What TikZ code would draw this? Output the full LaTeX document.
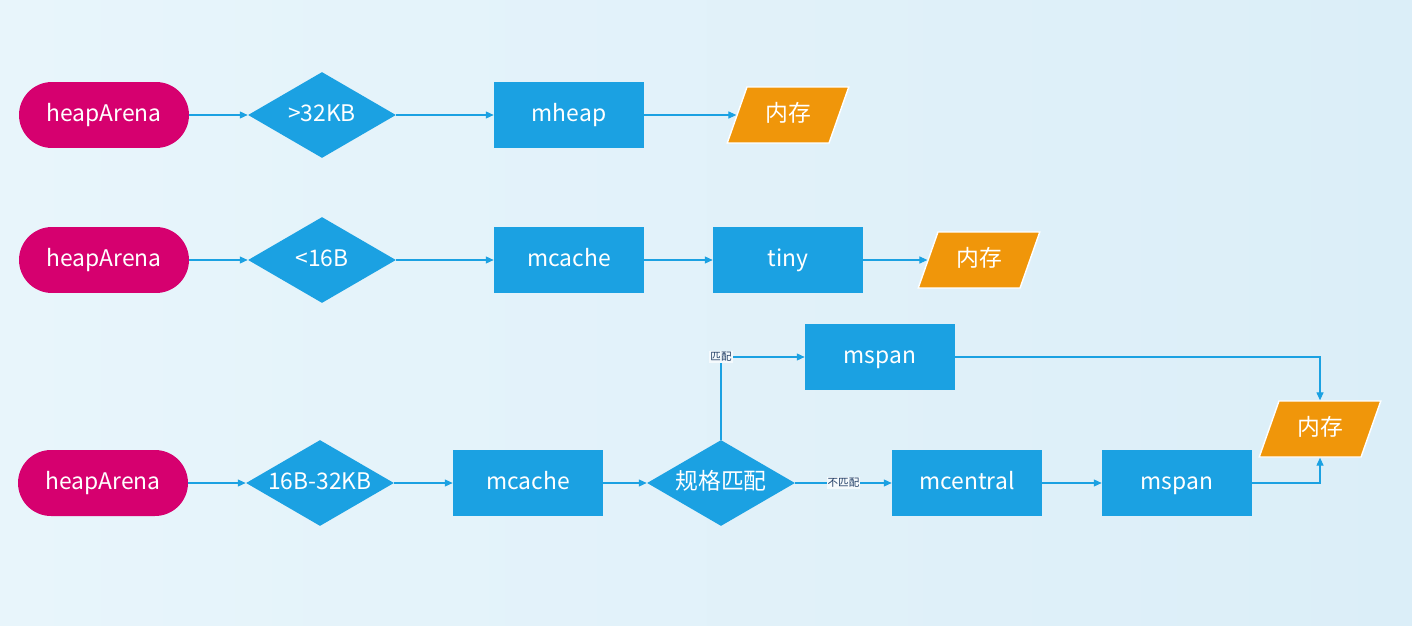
\documentclass[tikz,border=0pt]{standalone}
\usepackage{fontspec}
\setmainfont{Noto Sans CJK SC}
\usetikzlibrary{shapes.geometric,arrows.meta}

\definecolor{bgleft}{RGB}{232,245,251}
\definecolor{bgright}{RGB}{219,238,248}
\definecolor{arenared}{RGB}{214,0,111}
\definecolor{boxblue}{RGB}{27,161,226}
\definecolor{memorange}{RGB}{240,150,10}
\definecolor{tagtext}{RGB}{30,60,100}

\tikzset{
  every node/.append style={text height=1.9ex, text depth=0.45ex},
  arena/.style={rectangle, rounded corners=0.66cm, fill=arenared, text=white,
    minimum width=3.4cm, minimum height=1.32cm},
  cond/.style={diamond, aspect=1.72, fill=boxblue, text=white, inner sep=0pt,
    minimum width=2.96cm, minimum height=1.72cm},
  block/.style={rectangle, fill=boxblue, text=white,
    minimum width=3cm, minimum height=1.32cm},
  mem/.style={trapezium, trapezium left angle=68, trapezium right angle=112,
    trapezium stretches=true, fill=memorange, draw=white, line width=0.8pt,
    text=white, minimum width=2.44cm, minimum height=1.12cm},
  link/.style={draw=boxblue, line width=0.6pt, -{Triangle[length=4.5pt,width=4pt]}},
  tag/.style={fill=white!55!bgleft, text=tagtext, inner sep=0.6pt,
    text height=5pt, text depth=1pt, font=\fontsize{6}{7}\selectfont}
}

\begin{document}
\begin{tikzpicture}[x=0.02cm, y=-0.02cm, font=\fontsize{13}{15}\selectfont]

  \useasboundingbox (0,0) rectangle (1412,625);
  \shade[left color=bgleft, right color=bgright] (0,0) rectangle (1412,625);

  % -------------------------
  % >32KB
  % -------------------------
  \node[arena] (arena1) at (104,115) {heapArena};
  \node[cond]  (big)    at (322,115) {>32KB};
  \node[block] (heap)   at (569,115) {mheap};
  \node[mem]   (mem1)   at (788,115) {内存};

  \draw[link] (arena1.east) -- (big.west);
  \draw[link] (big.east) -- (heap.west);
  \draw[link] (heap.east) -- (mem1.west);

  % -------------------------
  % <16B
  % -------------------------
  \node[arena] (arena2) at (104,260) {heapArena};
  \node[cond]  (small)  at (322,260) {<16B};
  \node[block] (cache1) at (569,260) {mcache};
  \node[block] (tiny)   at (788,260) {tiny};
  \node[mem]   (mem2)   at (979,260) {内存};

  \draw[link] (arena2.east) -- (small.west);
  \draw[link] (small.east) -- (cache1.west);
  \draw[link] (cache1.east) -- (tiny.west);
  \draw[link] (tiny.east) -- (mem2.west);

  % -------------------------
  % 16B-32KB
  % -------------------------
  \node[arena] (arena3)  at (103,483) {heapArena};
  \node[cond]  (medium)  at (320,483) {16B-32KB};
  \node[block] (cache2)  at (528,483) {mcache};
  \node[cond]  (match)   at (721,483) {规格匹配};
  \node[block] (span1)   at (880,357) {mspan};
  \node[block] (central) at (967,483) {mcentral};
  \node[block] (span2)   at (1177,483) {mspan};
  \node[mem]   (mem3)    at (1320,429) {内存};

  \draw[link] (arena3.east) -- (medium.west);
  \draw[link] (medium.east) -- (cache2.west);
  \draw[link] (cache2.east) -- (match.west);
  \draw[link] (match.north) |- (span1.west) node[tag, pos=0.5] {匹配};
  \draw[link] (match.east) -- (central.west) node[tag, midway] {不匹配};
  \draw[link] (central.east) -- (span2.west);
  \draw[link] (span1.east) -| (mem3.north);
  \draw[link] (span2.east) -| (mem3.south);

\end{tikzpicture}
\end{document}
